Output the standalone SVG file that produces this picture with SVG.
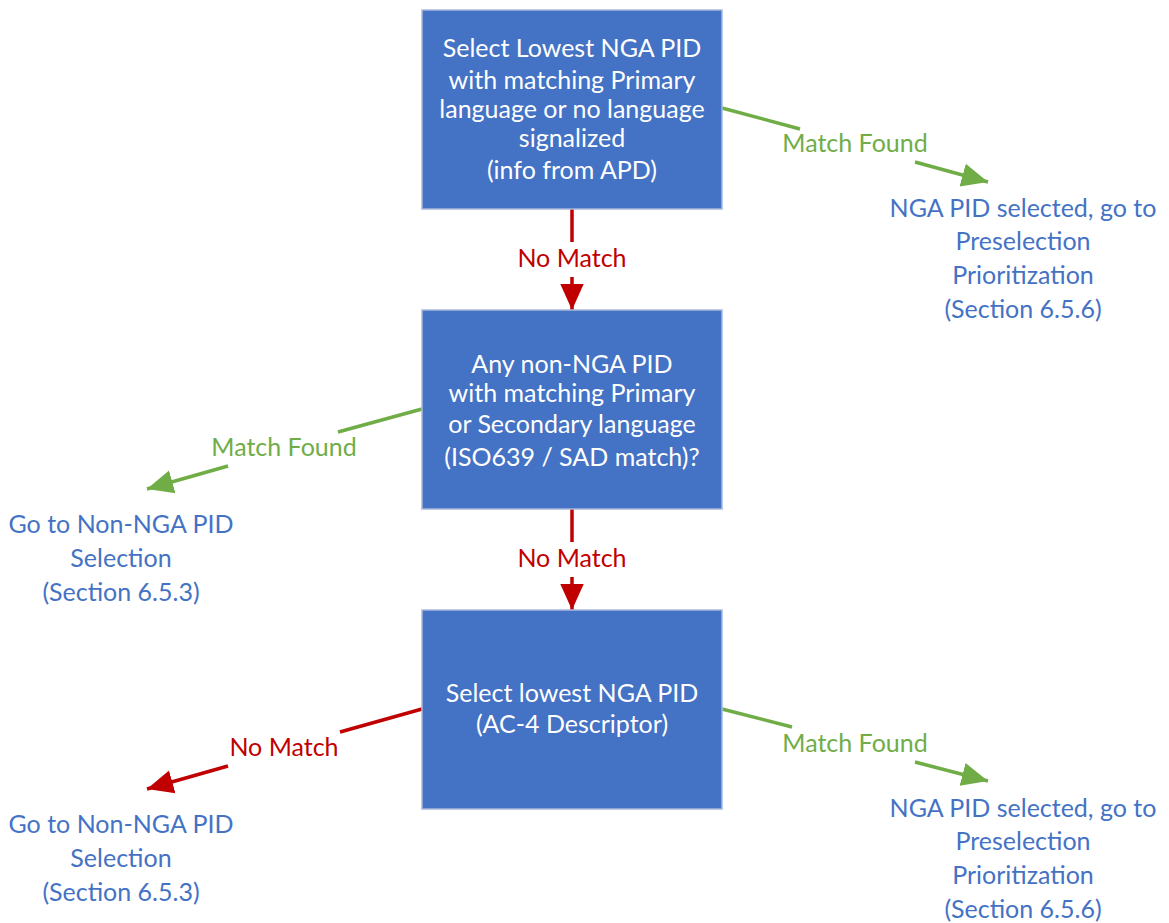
<svg xmlns="http://www.w3.org/2000/svg" width="1169" height="923" viewBox="0 0 1169 923">
<style>
.box{fill:#4472C4;stroke:#A9B9DA;stroke-width:1.5}
.bt{font-family:Lato,"Open Sans",sans-serif;font-size:25px;fill:#fff;text-anchor:middle}
.out{font-family:Lato,"Open Sans",sans-serif;font-size:25px;fill:#4472C4;text-anchor:middle}
.gl{font-family:Lato,"Open Sans",sans-serif;font-size:25px;fill:#70AD47;text-anchor:middle}
.rl{font-family:Lato,"Open Sans",sans-serif;font-size:25px;fill:#C00000;text-anchor:middle}
.g{stroke:#70AD47;stroke-width:3.5;fill:none}
.r{stroke:#C00000;stroke-width:3.5;fill:none}
</style>
<defs>
<marker id="ag" viewBox="0 0 10 10" refX="10" refY="5" markerWidth="7.5" markerHeight="7.5" markerUnits="strokeWidth" orient="auto"><path d="M0,0.5L10,5L0,9.5z" fill="#70AD47"/></marker>
<marker id="ar" viewBox="0 0 10 10" refX="10" refY="5" markerWidth="7.5" markerHeight="7.5" markerUnits="strokeWidth" orient="auto"><path d="M0,0.5L10,5L0,9.5z" fill="#C00000"/></marker>
</defs>
<rect width="1169" height="923" fill="#fff"/>
<g id="connectors">
<line class="g" x1="722" y1="108" x2="800" y2="129"/>
<line class="g" x1="915" y1="162" x2="988" y2="182" marker-end="url(#ag)"/>
<text class="gl" x="855" y="152">Match Found</text>
<line class="r" x1="572" y1="209" x2="572" y2="242"/>
<line class="r" x1="572" y1="277" x2="572" y2="310" marker-end="url(#ar)"/>
<text class="rl" x="572" y="267">No Match</text>
<line class="g" x1="422" y1="409" x2="338" y2="432"/>
<line class="g" x1="228" y1="466" x2="147" y2="489" marker-end="url(#ag)"/>
<text class="gl" x="284" y="456">Match Found</text>
<line class="r" x1="572" y1="509" x2="572" y2="542"/>
<line class="r" x1="572" y1="577" x2="572" y2="610" marker-end="url(#ar)"/>
<text class="rl" x="572" y="567">No Match</text>
<line class="r" x1="422" y1="709" x2="340" y2="732"/>
<line class="r" x1="228" y1="766" x2="147" y2="789" marker-end="url(#ar)"/>
<text class="rl" x="284" y="756">No Match</text>
<line class="g" x1="722" y1="709" x2="792" y2="727"/>
<line class="g" x1="915" y1="762" x2="988" y2="781" marker-end="url(#ag)"/>
<text class="gl" x="855" y="752">Match Found</text>
</g>
<g id="n1">
<rect class="box" x="422" y="10" width="300" height="199"/>
<text class="bt" x="572" y="57">Select Lowest NGA PID</text>
<text class="bt" x="572" y="89">with matching Primary</text>
<text class="bt" x="572" y="118">language or no language</text>
<text class="bt" x="572" y="147">signalized</text>
<text class="bt" x="572" y="179">(info from APD)</text>
</g>
<g id="n2">
<rect class="box" x="422" y="310" width="300" height="199"/>
<text class="bt" x="572" y="373">Any non-NGA PID</text>
<text class="bt" x="572" y="402">with matching Primary</text>
<text class="bt" x="572" y="433">or Secondary language</text>
<text class="bt" x="572" y="466">(ISO639 / SAD match)?</text>
</g>
<g id="n3">
<rect class="box" x="422" y="610" width="300" height="199"/>
<text class="bt" x="572" y="702">Select lowest NGA PID</text>
<text class="bt" x="572" y="733">(AC-4 Descriptor)</text>
</g>
<g id="o1">
<text class="out" x="1023" y="217">NGA PID selected, go to</text>
<text class="out" x="1023" y="250">Preselection</text>
<text class="out" x="1023" y="284">Prioritization</text>
<text class="out" x="1023" y="318">(Section 6.5.6)</text>
</g>
<g id="o2">
<text class="out" x="121" y="533">Go to Non-NGA PID</text>
<text class="out" x="121" y="567">Selection</text>
<text class="out" x="121" y="601">(Section 6.5.3)</text>
</g>
<g id="o3">
<text class="out" x="121" y="833">Go to Non-NGA PID</text>
<text class="out" x="121" y="867">Selection</text>
<text class="out" x="121" y="901">(Section 6.5.3)</text>
</g>
<g id="o4">
<text class="out" x="1023" y="817">NGA PID selected, go to</text>
<text class="out" x="1023" y="850">Preselection</text>
<text class="out" x="1023" y="884">Prioritization</text>
<text class="out" x="1023" y="918">(Section 6.5.6)</text>
</g>
</svg>
